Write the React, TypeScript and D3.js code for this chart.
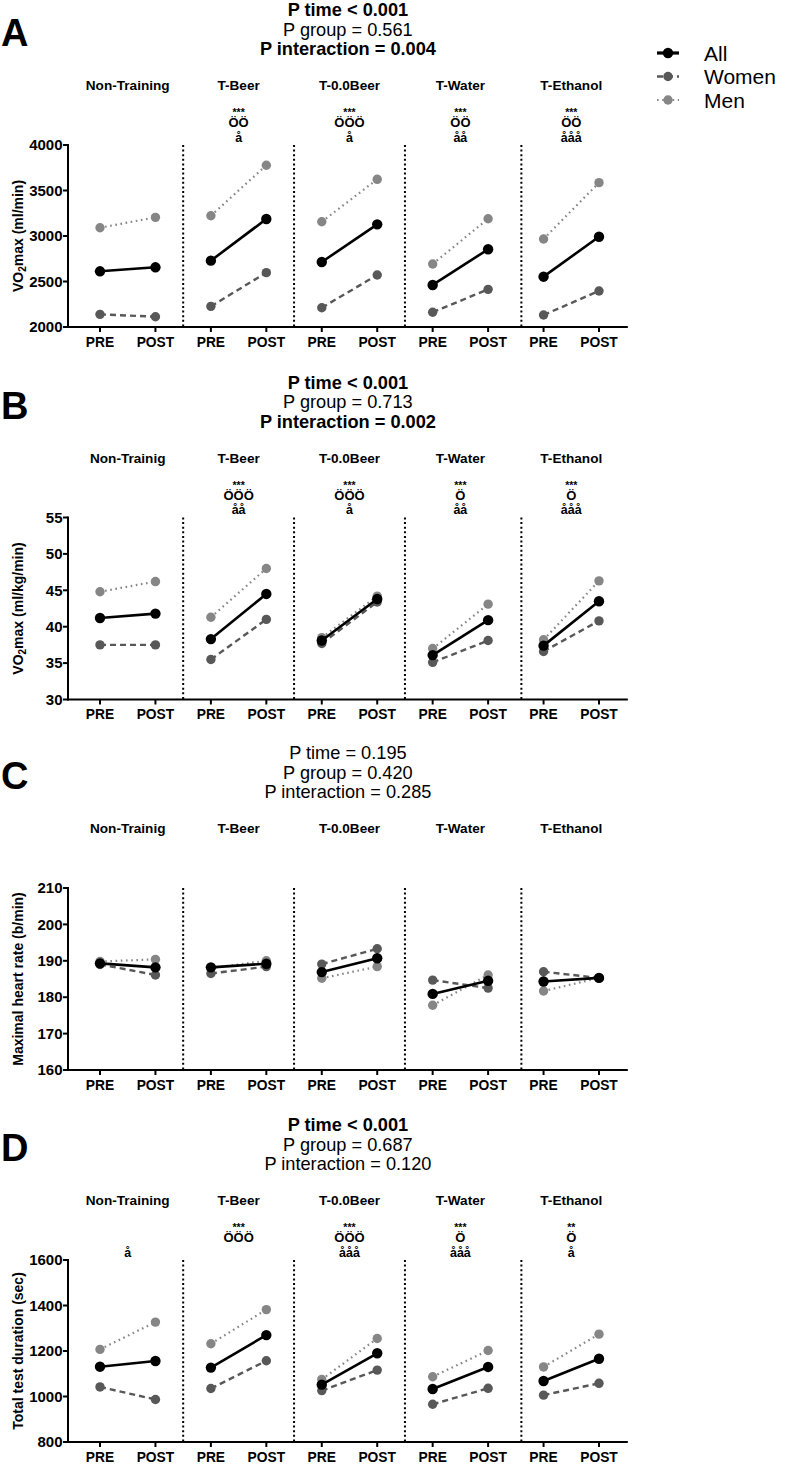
import React from "react";
import * as d3 from "d3";

const FONT = "'Liberation Sans', Arial, Helvetica, sans-serif";

// categories
const groupsTraining = ["Non-Training", "T-Beer", "T-0.0Beer", "T-Water", "T-Ethanol"];
const groupsTrainig = ["Non-Trainig", "T-Beer", "T-0.0Beer", "T-Water", "T-Ethanol"];
const timeLabels = ["PRE", "POST"];
const seriesNames = ["All", "Women", "Men"];

// Panel A: VO2max (ml/min), values PRE, POST per group
const vo2mlAll = [2612, 2656, 2729, 3187, 2714, 3128, 2462, 2854, 2553, 2992];
const vo2mlWomen = [2139, 2113, 2227, 2597, 2212, 2571, 2162, 2414, 2132, 2396];
const vo2mlMen = [3091, 3205, 3223, 3777, 3157, 3623, 2692, 3190, 2967, 3586];
const ticksA = [2000, 2500, 3000, 3500, 4000];

// Panel B: VO2max (ml/kg/min)
const vo2kgAll = [41.2, 41.8, 38.3, 44.5, 38.1, 43.8, 36.1, 40.9, 37.4, 43.5];
const vo2kgWomen = [37.5, 37.5, 35.5, 41.0, 37.7, 43.4, 35.1, 38.1, 36.6, 40.8];
const vo2kgMen = [44.8, 46.2, 41.3, 48.0, 38.5, 44.2, 37.0, 43.1, 38.2, 46.3];
const ticksB = [30, 35, 40, 45, 50, 55];

// Panel C: Maximal heart rate (b/min)
const hrAll = [189.3, 188.2, 188.2, 189.2, 186.9, 190.7, 180.9, 184.5, 184.3, 185.3];
const hrWomen = [189.0, 186.1, 186.5, 188.4, 189.1, 193.3, 184.7, 182.5, 187.0, 185.3];
const hrMen = [189.8, 190.4, 188.0, 190.0, 185.2, 188.4, 177.8, 186.1, 181.7, 185.3];
const ticksC = [160, 170, 180, 190, 200, 210];

// Panel D: Total test duration (sec)
const durAll = [1131, 1156, 1127, 1270, 1052, 1190, 1033, 1130, 1068, 1166];
const durWomen = [1042, 987, 1035, 1157, 1026, 1116, 966, 1036, 1006, 1058];
const durMen = [1207, 1327, 1232, 1382, 1075, 1255, 1087, 1202, 1130, 1274];
const ticksD = [800, 1000, 1200, 1400, 1600];

// annotations
const starsA = ["", "***", "***", "***", "***"];
const phiA = ["", "ÖÖ", "ÖÖÖ", "ÖÖ", "ÖÖ"];
const alphaA = ["", "å", "å", "åå", "ååå"];
const starsB = ["", "***", "***", "***", "***"];
const phiB = ["", "ÖÖÖ", "ÖÖÖ", "Ö", "Ö"];
const alphaB = ["", "åå", "å", "åå", "ååå"];
const starsD = ["", "***", "***", "***", "**"];
const phiD = ["", "ÖÖÖ", "ÖÖÖ", "Ö", "Ö"];
const alphaD = ["å", "", "ååå", "ååå", "å"];
const noAnnot = ["", "", "", "", ""];

// dividers between groups, in point-index units
const dividers = [1.5, 3.5, 5.5, 7.6];

const seriesStyle: Record<string, any> = {
  All: { color: "#000000", width: 2.6, dash: null, r: 5.2 },
  Women: { color: "#585858", width: 2.4, dash: "6,4", r: 4.7 },
  Men: { color: "#868686", width: 2.2, dash: "1.6,3.6", r: 4.7 },
};

const panels = [
  {
    letter: "A", offset: 0, groups: groupsTraining, ticks: ticksA,
    data: { All: vo2mlAll, Women: vo2mlWomen, Men: vo2mlMen },
    title: [["P time < 0.001", true], ["P group = 0.561", false], ["P interaction = 0.004", true]],
    ylabel: ["VO", "2", "max (ml/min)"],
    stars: starsA, phi: phiA, alpha: alphaA, legend: true,
  },
  {
    letter: "B", offset: 372.5, groups: groupsTrainig, ticks: ticksB,
    data: { All: vo2kgAll, Women: vo2kgWomen, Men: vo2kgMen },
    title: [["P time < 0.001", true], ["P group = 0.713", false], ["P interaction = 0.002", true]],
    ylabel: ["VO", "2", "max (ml/kg/min)"],
    stars: starsB, phi: phiB, alpha: alphaB, legend: false,
  },
  {
    letter: "C", offset: 743, groups: groupsTrainig, ticks: ticksC,
    data: { All: hrAll, Women: hrWomen, Men: hrMen },
    title: [["P time = 0.195", false], ["P group = 0.420", false], ["P interaction = 0.285", false]],
    ylabel: ["Maximal heart rate (b/min)", "", ""],
    stars: noAnnot, phi: noAnnot, alpha: noAnnot, legend: false,
  },
  {
    letter: "D", offset: 1115, groups: groupsTraining, ticks: ticksD,
    data: { All: durAll, Women: durWomen, Men: durMen },
    title: [["P time < 0.001", true], ["P group = 0.687", false], ["P interaction = 0.120", false]],
    ylabel: ["Total test duration (sec)", "", ""],
    stars: starsD, phi: phiD, alpha: alphaD, legend: false,
  },
];

const x = d3.scaleLinear().domain([0, 9]).range([100, 599]);
const PLOT_TOP = 145;
const PLOT_BOTTOM = 327;
const AXIS_X = 68;

function Panel({ p }: { p: any }) {
  const o = p.offset;
  const y = d3
    .scaleLinear()
    .domain([p.ticks[0], p.ticks[p.ticks.length - 1]])
    .range([o + PLOT_BOTTOM, o + PLOT_TOP]);
  const yB = o + PLOT_BOTTOM;
  const yT = o + PLOT_TOP;
  const xLeft = AXIS_X;
  const xRight = x(9.52);
  const centerX = (xLeft + xRight) / 2;
  const idx = d3.range(10);
  const line = (vals: number[], g: number) =>
    d3.line<number>()
      .x((_, i) => x(g * 2 + i))
      .y((v) => y(v))([vals[g * 2], vals[g * 2 + 1]]) as string;

  return (
    <g>
      <text x={1} y={o + 46} fontFamily={FONT} fontWeight="bold" fontSize={38}>{p.letter}</text>
      {p.title.map((t: any, i: number) => (
        <text key={i} x={centerX} y={o + 16 + i * 19.5} textAnchor="middle" fontFamily={FONT}
          fontWeight={t[1] ? "bold" : "normal"} fontSize={18.2}>{t[0]}</text>
      ))}
      {p.groups.map((g: string, i: number) => {
        const cx = (x(i * 2) + x(i * 2 + 1)) / 2;
        return (
          <g key={g + i}>
            <text x={cx} y={o + 90} textAnchor="middle" fontFamily={FONT} fontWeight="bold" fontSize={13.6}>{g}</text>
            {p.stars[i] && <text x={cx} y={o + 116} textAnchor="middle" fontFamily={FONT} fontWeight="bold" fontSize={10.5}>{p.stars[i]}</text>}
            {p.phi[i] && <text x={cx} y={o + 127} textAnchor="middle" fontFamily={FONT} fontWeight="bold" fontSize={13}>{p.phi[i]}</text>}
            {p.alpha[i] && <text x={cx} y={o + 141.5} textAnchor="middle" fontFamily={FONT} fontWeight="bold" fontSize={12.5}>{p.alpha[i]}</text>}
          </g>
        );
      })}
      {/* dividers */}
      {dividers.map((d, i) => (
        <line key={i} x1={x(d)} x2={x(d)} y1={yT} y2={yB} stroke="#000" strokeWidth={2} strokeDasharray="2,2.6" />
      ))}
      {/* y axis */}
      <line x1={xLeft} x2={xLeft} y1={yT - 1} y2={yB + 1} stroke="#000" strokeWidth={2} />
      {p.ticks.map((t: number) => (
        <g key={t}>
          <line x1={xLeft - 5} x2={xLeft} y1={y(t)} y2={y(t)} stroke="#000" strokeWidth={2} />
          <text x={xLeft - 5.5} y={y(t) + 5.2} textAnchor="end" fontFamily={FONT} fontWeight="bold" fontSize={15}>{t}</text>
        </g>
      ))}
      {/* x axis */}
      <line x1={xLeft - 1} x2={xRight} y1={yB} y2={yB} stroke="#000" strokeWidth={2.2} />
      {idx.map((i) => (
        <g key={i}>
          <line x1={x(i)} x2={x(i)} y1={yB} y2={yB + 5} stroke="#000" strokeWidth={2} />
          <text x={x(i)} y={yB + 19.5} textAnchor="middle" fontFamily={FONT} fontWeight="bold" fontSize={13.8}>{timeLabels[i % 2]}</text>
        </g>
      ))}
      {/* y label */}
      <text transform={`translate(${22.5},${(yT + yB) / 2}) rotate(-90)`} textAnchor="middle" fontFamily={FONT} fontWeight="bold" fontSize={14}>
        {p.ylabel[0]}
        {p.ylabel[1] && <tspan fontSize={10} dy={3}>{p.ylabel[1]}</tspan>}
        {p.ylabel[2] && <tspan dy={-3}>{p.ylabel[2]}</tspan>}
      </text>
      {/* series */}
      {["Men", "Women", "All"].map((s) => {
        const st = seriesStyle[s];
        const vals: number[] = p.data[s];
        return (
          <g key={s}>
            {d3.range(5).map((g) => (
              <path key={g} d={line(vals, g)} fill="none" stroke={st.color} strokeWidth={st.width}
                strokeDasharray={st.dash || undefined} />
            ))}
            {vals.map((v, i) => (
              <circle key={i} cx={x(i)} cy={y(v)} r={st.r} fill={st.color} />
            ))}
          </g>
        );
      })}
      {p.legend &&
        seriesNames.map((s, i) => {
          const st = seriesStyle[s];
          const ly = o + 53 + i * 23.5;
          return (
            <g key={s}>
              <line x1={657} x2={679} y1={ly} y2={ly} stroke={st.color} strokeWidth={st.width + (s === "All" ? 0.6 : 0)}
                strokeDasharray={st.dash || undefined} />
              <circle cx={668} cy={ly} r={st.r} fill={st.color} />
              <text x={704} y={ly + 7.5} fontFamily={FONT} fontSize={21}>{s}</text>
            </g>
          );
        })}
    </g>
  );
}

export default function App() {
  return (
    <svg width={787} height={1468} style={{ position: "absolute", left: 0, top: 0, background: "#fff" }}>
      <rect x={0} y={0} width={787} height={1468} fill="#fff" />
      {panels.map((p) => (
        <Panel key={p.letter} p={p} />
      ))}
    </svg>
  );
}
